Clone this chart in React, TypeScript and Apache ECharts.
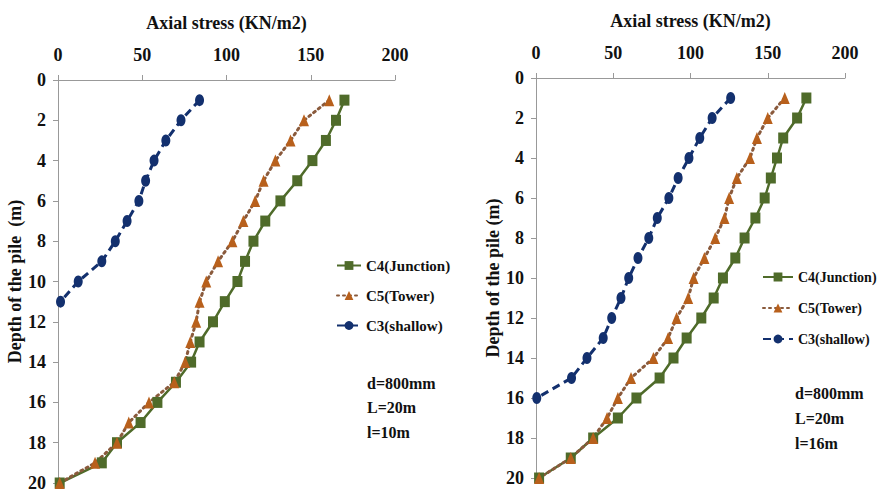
import React, { useEffect, useRef } from "react";
import * as echarts from "echarts";

const xTicks = [0, 50, 100, 150, 200];
const depthsFull = [1, 2, 3, 4, 5, 6, 7, 8, 9, 10, 11, 12, 13, 14, 15, 16, 17, 18, 19, 20];

// Left panel (l = 10m)
const c4Left = [170, 165, 159, 151, 142, 132, 123, 116, 111, 106.5, 99, 92, 84, 79, 70, 59, 49, 35, 26, 1];
const c5Left = [161, 146, 138, 129, 122, 117, 110, 103.5, 95, 88, 84, 82, 78.5, 75.5, 69, 54, 42, 35, 22, 1];
const c3Left = [84, 73, 64, 57, 52, 48, 41, 34, 26, 12, 1.5];

// Right panel (l = 16m)
const c4Right = [175, 169, 160, 156, 152, 148, 142, 135, 129, 121, 115, 107, 97.5, 89, 80, 65, 53, 37, 22.5, 2];
const c5Right = [161, 150, 143, 138.5, 130, 125, 122, 116, 109, 102, 98.5, 91, 85.5, 76, 61.5, 53, 46, 37, 22.5, 2];
const c3Right = [126, 114, 106, 99, 92, 86, 78.5, 73, 66, 60, 55, 49, 43.5, 33, 23, 0.5];

const seriesNames = ["C4(Junction)", "C5(Tower)", "C3(shallow)"];
const notesLeft = ["d=800mm", "L=20m", "l=10m"];
const notesRight = ["d=800mm", "L=20m", "l=16m"];

const FONT = "'Liberation Serif', 'Times New Roman', serif";
const GREEN = "#4f6b2a";
const ORANGE = "#b8601c";
const DOTLINE = "#8a5a3c";
const BLUE = "#13306e";

const toPairs = (vals: number[]) => vals.map((v, i) => [v, depthsFull[i]]);

function makeSeries(idx: number, c4: number[], c5: number[], c3: number[]) {
  return [
    {
      name: seriesNames[0],
      type: "line",
      xAxisIndex: idx,
      yAxisIndex: idx,
      data: toPairs(c4),
      symbol: "rect",
      symbolSize: [10, 11],
      itemStyle: { color: GREEN },
      lineStyle: { color: GREEN, width: 2.5, type: "solid" },
    },
    {
      name: seriesNames[1],
      type: "line",
      xAxisIndex: idx,
      yAxisIndex: idx,
      data: toPairs(c5),
      symbol: "triangle",
      symbolSize: [10, 12],
      itemStyle: { color: ORANGE },
      lineStyle: { color: DOTLINE, width: 3, type: [2, 4], cap: "round" },
    },
    {
      name: seriesNames[2],
      type: "line",
      xAxisIndex: idx,
      yAxisIndex: idx,
      data: toPairs(c3),
      symbol: "circle",
      symbolSize: [9, 12],
      itemStyle: { color: BLUE },
      lineStyle: { color: BLUE, width: 3, type: [8, 5] },
    },
  ];
}

function xAxisCfg(idx: number) {
  return {
    gridIndex: idx,
    type: "value",
    position: "top",
    min: 0,
    max: 200,
    interval: 50,
    name: "Axial stress (KN/m2)",
    nameLocation: "middle",
    nameGap: 48,
    nameTextStyle: { fontFamily: FONT, fontWeight: "bold", fontSize: 18, color: "#111" },
    axisLine: { show: true, lineStyle: { color: "#999", width: 1 } },
    axisTick: { show: true, length: 5, lineStyle: { color: "#999" } },
    axisLabel: { fontFamily: FONT, fontWeight: "bold", fontSize: 18, color: "#111", margin: 16 },
    splitLine: { show: false },
  };
}

function yAxisCfg(idx: number, gap: number) {
  return {
    gridIndex: idx,
    type: "value",
    inverse: true,
    min: 0,
    max: 20,
    interval: 2,
    name: idx === 0 ? "Depth of the pile  (m)" : "Depth of the pile (m)",
    nameLocation: "middle",
    nameGap: gap,
    nameTextStyle: { fontFamily: FONT, fontWeight: "bold", fontSize: 18, color: "#111" },
    axisLine: { show: true, lineStyle: { color: "#999", width: 1 } },
    axisTick: { show: true, length: 5, lineStyle: { color: "#999" } },
    axisLabel: { fontFamily: FONT, fontWeight: "bold", fontSize: 18, color: "#111", margin: 12 },
    splitLine: { show: false },
  };
}

function noteGraphics(lines: string[], x: number, ys: number[]) {
  return lines.map((t, i) => ({
    type: "text",
    x,
    y: ys[i],
    style: {
      text: t,
      fontFamily: FONT,
      fontWeight: "bold",
      fontSize: 16,
      fill: "#111",
      verticalAlign: "middle",
    },
  }));
}

export default function App() {
  const ref = useRef<HTMLDivElement>(null);
  useEffect(() => {
    if (!ref.current) return;
    const chart = echarts.init(ref.current, undefined, { renderer: "svg" });
    const legendText = { fontFamily: FONT, fontWeight: "bold", fontSize: 15, color: "#111" };
    chart.setOption({
      animation: false,
      backgroundColor: "#fff",
      textStyle: { fontFamily: FONT },
      grid: [
        { left: 58, top: 80, width: 337, height: 403 },
        { left: 536, top: 78, width: 309, height: 400 },
      ],
      xAxis: [xAxisCfg(0), xAxisCfg(1)],
      yAxis: [yAxisCfg(0, 34), yAxisCfg(1, 32)],
      legend: [
        {
          orient: "vertical",
          left: 331,
          top: 253,
          itemWidth: 24,
          itemHeight: 11,
          itemGap: 15,
          data: seriesNames,
          textStyle: legendText,
          selectedMode: false,
        },
        {
          orient: "vertical",
          left: 757,
          top: 265,
          itemWidth: 30,
          itemHeight: 11,
          itemGap: 17,
          data: seriesNames,
          textStyle: { ...legendText, fontSize: 14 },
          selectedMode: false,
        },
      ],
      graphic: [
        ...noteGraphics(notesLeft, 367, [383, 407, 432]),
        ...noteGraphics(notesRight, 795, [393, 418, 443]),
      ],
      series: [
        ...makeSeries(0, c4Left, c5Left, c3Left),
        ...makeSeries(1, c4Right, c5Right, c3Right),
      ],
    });
    return () => chart.dispose();
  }, []);
  return (
    <div
      ref={ref}
      style={{ position: "fixed", left: 0, top: 0, width: 877, height: 492 }}
    />
  );
}
